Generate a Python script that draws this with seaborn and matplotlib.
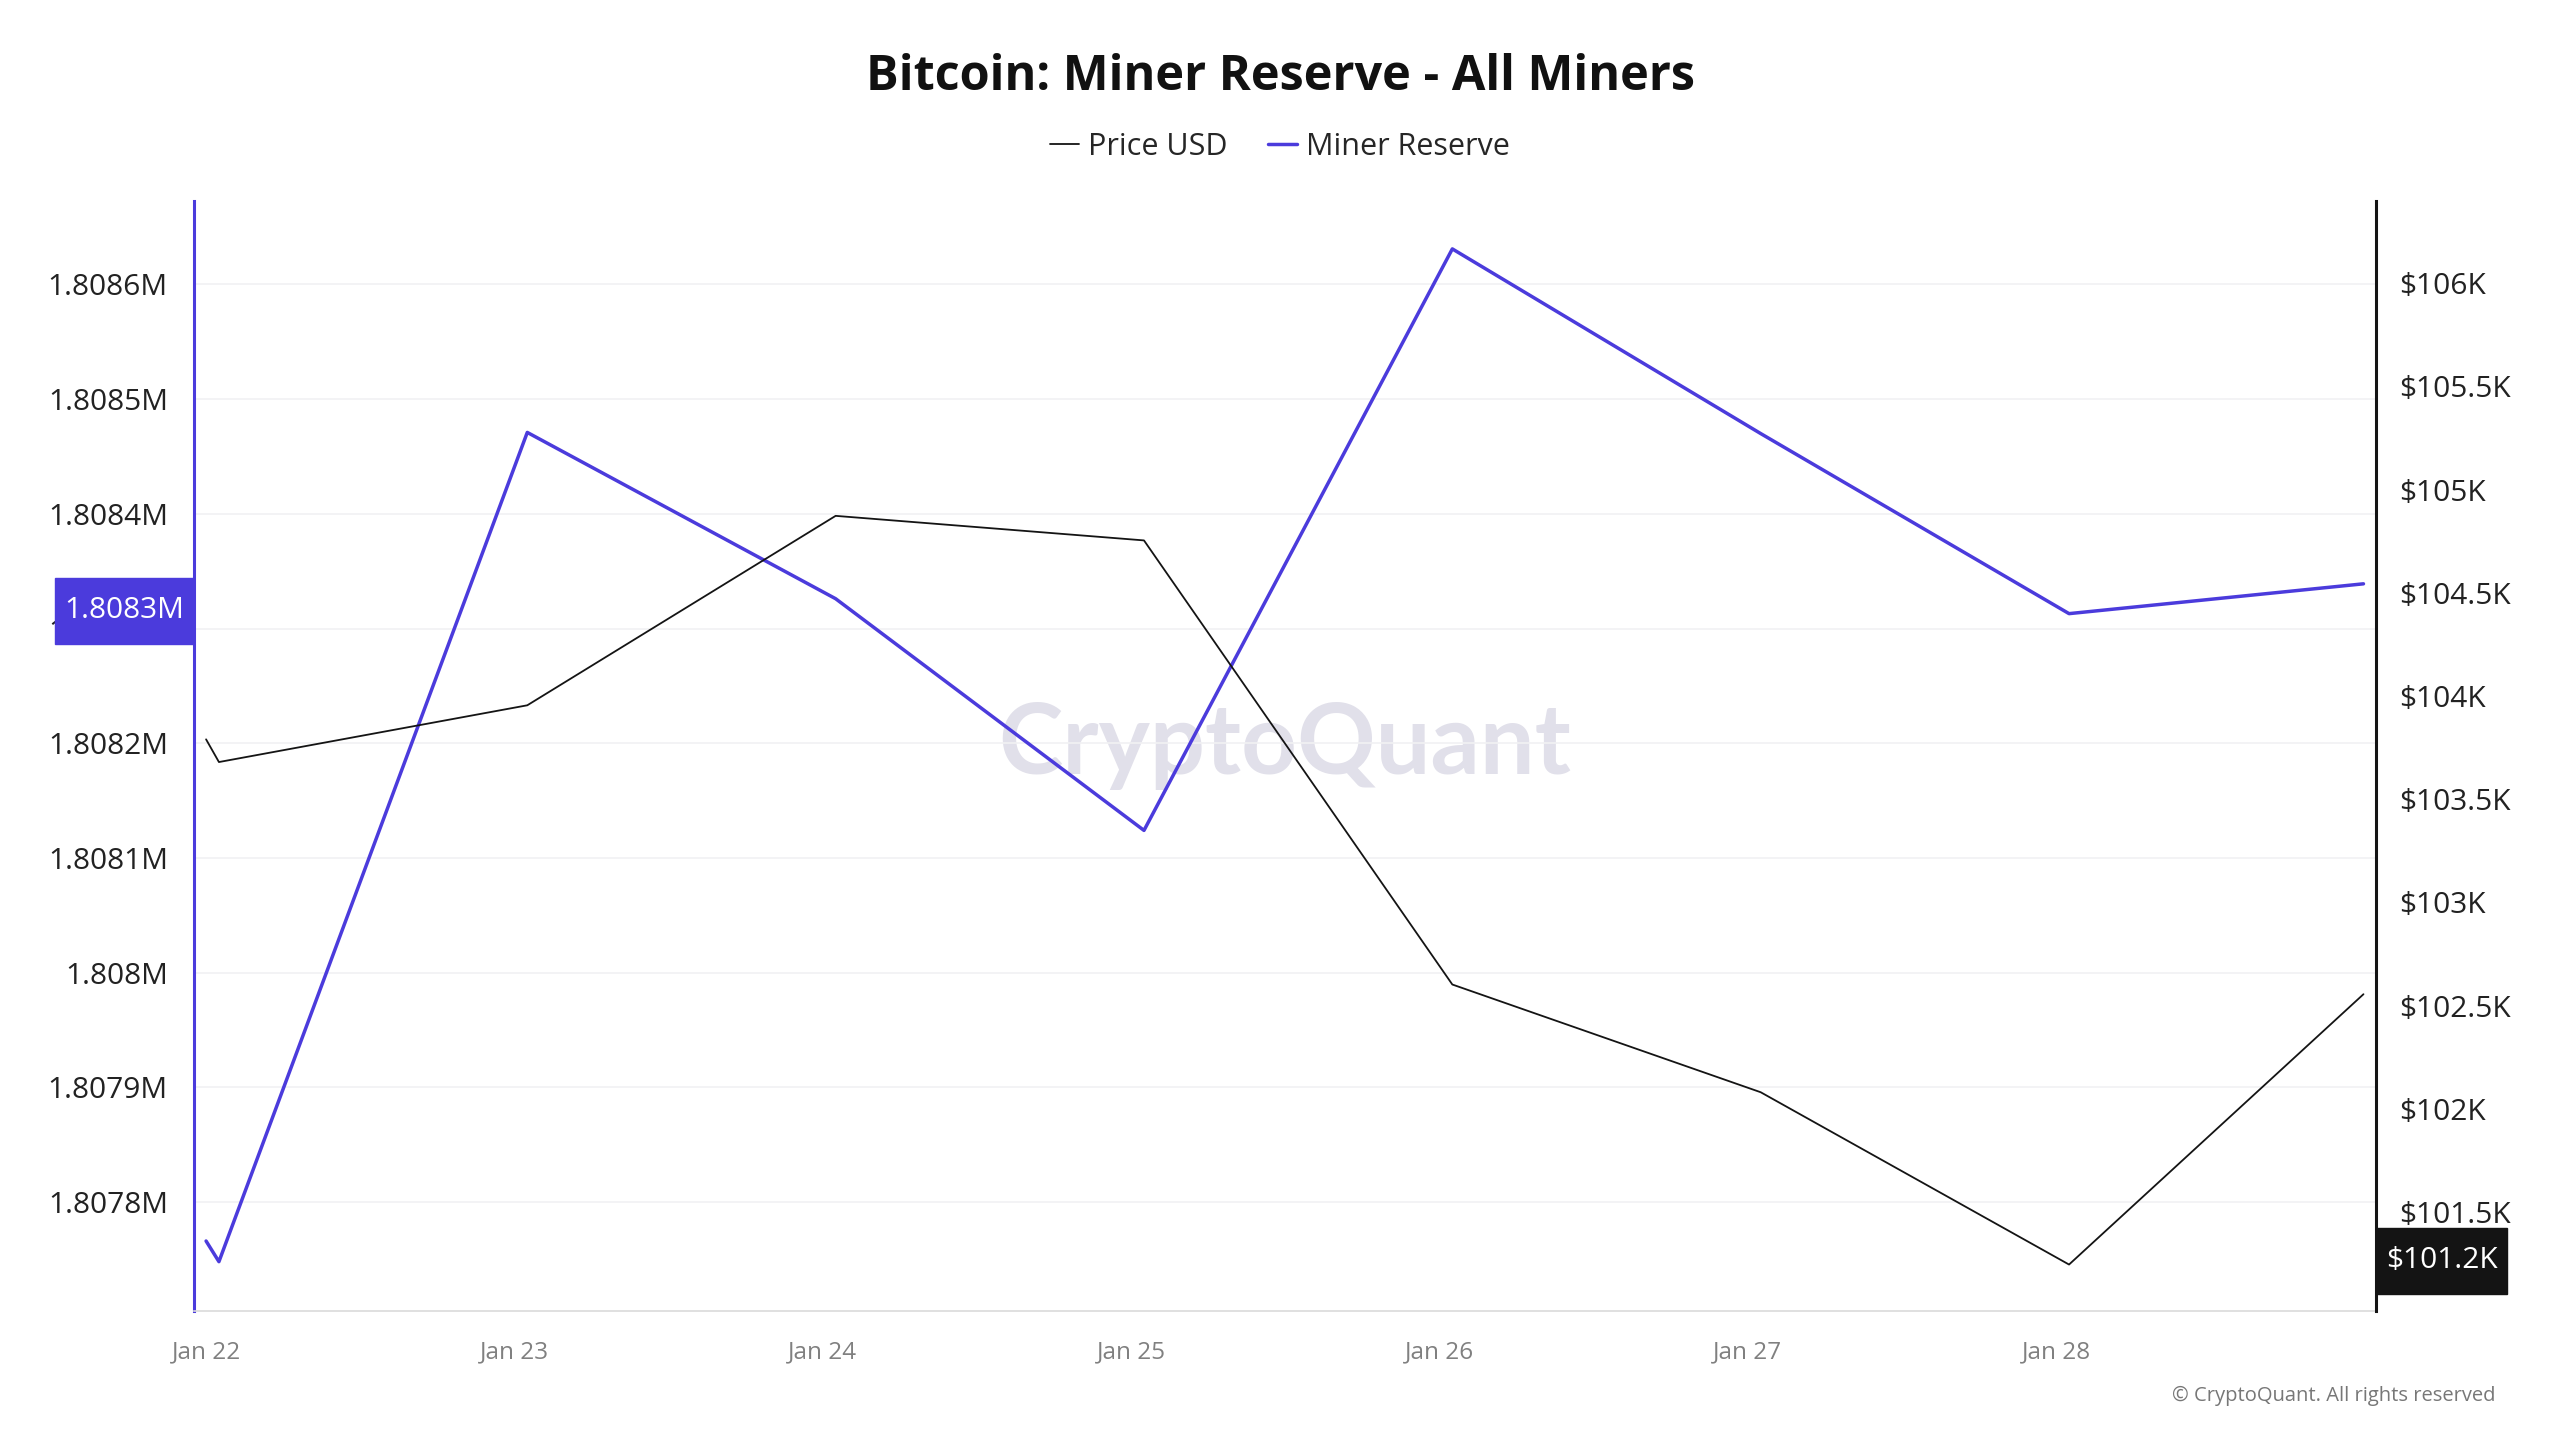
import numpy as np
import pandas as pd
import matplotlib
matplotlib.use("Agg")
import matplotlib.pyplot as plt
import matplotlib.dates as mdates
from matplotlib.lines import Line2D
from matplotlib.path import Path
from matplotlib.ticker import FuncFormatter, FixedLocator
import seaborn as sns

# ---------------- data ----------------
timestamps = ["2025-01-22 00:00", "2025-01-22 01:00", "2025-01-23 01:00",
              "2025-01-24 01:00", "2025-01-25 01:00", "2025-01-26 01:00",
              "2025-01-27 01:00", "2025-01-28 01:00", "2025-01-28 23:55"]
miner_reserve = [1807766, 1807748, 1808471, 1808326, 1808124,
                 1808631, 1808470, 1808313, 1808339]
price_usd = [103790, 103680, 103955, 104873, 104754,
             102602, 102080, 101245, 102555]
left_ticks = [1807800, 1807900, 1808000, 1808100, 1808200,
              1808300, 1808400, 1808500, 1808600]
right_ticks = [101500, 102000, 102500, 103000, 103500,
               104000, 104500, 105000, 105500, 106000]
x_tick_days = ["2025-01-22", "2025-01-23", "2025-01-24", "2025-01-25",
               "2025-01-26", "2025-01-27", "2025-01-28"]

title = "Bitcoin: Miner Reserve - All Miners"
legend_labels = ["Price USD", "Miner Reserve"]

df = pd.DataFrame({"date": pd.to_datetime(timestamps),
                   "reserve": miner_reserve,
                   "price": price_usd})

# ---------------- style ----------------
BLUE = "#4B3BDC"
BLACK = "#141414"
sns.set_theme(style="white")
plt.rcParams["font.family"] = ["Open Sans", "DejaVu Sans"]

fig = plt.figure(figsize=(25.6, 14.4), dpi=100)
ax = fig.add_axes([0.0759, 0.0896, 0.8521, 0.7710])
ax2 = ax.twinx()

sns.lineplot(data=df, x="date", y="reserve", ax=ax, color=BLUE,
             linewidth=2.5, legend=False)
sns.lineplot(data=df, x="date", y="price", ax=ax2, color=BLACK,
             linewidth=1.3, legend=False)

# limits
ax.set_xlim(pd.Timestamp("2025-01-21 23:05"), pd.Timestamp("2025-01-29 00:52"))
ax.set_ylim(1807705, 1808673)
ax2.set_ylim(101020, 106400)

# x ticks
ax.xaxis.set_major_locator(FixedLocator(mdates.date2num(pd.to_datetime(x_tick_days))))
ax.xaxis.set_major_formatter(mdates.DateFormatter("%b %d"))
ax.tick_params(axis="x", labelsize=17.5, colors="#808080", length=0, pad=21)

# left y
ax.yaxis.set_major_locator(FixedLocator(left_ticks))
ax.yaxis.set_major_formatter(FuncFormatter(lambda v, p: f"{v/1e6:g}M"))
ax.tick_params(axis="y", labelsize=21.5, labelcolor="#222222", length=0, pad=19)
ax.grid(axis="y", color="#F1F1F3", linewidth=1.2)
ax.grid(axis="x", visible=False)

# right y
ax2.yaxis.set_major_locator(FixedLocator(right_ticks))
ax2.yaxis.set_major_formatter(FuncFormatter(lambda v, p: f"${v/1000:g}K"))
ax2.tick_params(axis="y", labelsize=21.5, labelcolor="#222222", length=0, pad=17)
ax2.grid(False)

ax.set_xlabel("")
ax.set_ylabel("")
ax2.set_ylabel("")

# spines
for a in (ax, ax2):
    for s in ("top", "left", "right", "bottom"):
        a.spines[s].set_visible(False)
ax.spines["left"].set_visible(True)
ax.spines["left"].set_color(BLUE)
ax.spines["left"].set_linewidth(2.2)
ax2.spines["right"].set_visible(True)
ax2.spines["right"].set_color(BLACK)
ax2.spines["right"].set_linewidth(2.2)
ax.spines["bottom"].set_visible(True)
ax.spines["bottom"].set_color("#DADADA")
ax.spines["bottom"].set_linewidth(1.2)

# watermark
ax.text(0.5, 0.509, "CryptoQuant", transform=ax.transAxes, fontsize=70,
        color="#E1E0EA", ha="center", va="center", fontweight="bold",
        family=["Lato", "DejaVu Sans"], zorder=0)


def tall_box(x0, y0, width, height, mutation_size):
    px = 0.32 * mutation_size
    py = 0.62 * mutation_size
    x0, y0 = x0 - px, y0 - py
    x1, y1 = x0 + width + 2 * px, y0 + height + 2 * py
    return Path([(x0, y0), (x1, y0), (x1, y1), (x0, y1), (x0, y0)],
                closed=True)


# value boxes
ax.annotate(f"{miner_reserve[-2]/1e6:.4f}M", xy=(0, miner_reserve[-2]),
            xycoords=("axes fraction", "data"), xytext=(-10, 3),
            textcoords="offset pixels", ha="right", va="center",
            fontsize=21.5, color="white", annotation_clip=False, zorder=10,
            bbox=dict(boxstyle=tall_box, fc=BLUE, ec=BLUE))
ax2.annotate(f"${price_usd[-2]/1000:.1f}K", xy=(1, price_usd[-2]),
             xycoords=("axes fraction", "data"), xytext=(10, 4),
             textcoords="offset pixels", ha="left", va="center",
             fontsize=21.5, color="white", annotation_clip=False, zorder=10,
             bbox=dict(boxstyle=tall_box, fc=BLACK, ec=BLACK))

# title & legend
fig.text(0.5, 0.946, title, ha="center", va="center", fontsize=35,
         fontweight="bold", color="#111111")
handles = [Line2D([], [], color=BLACK, linewidth=1.3),
           Line2D([], [], color=BLUE, linewidth=2.5)]
fig.legend(handles, legend_labels, loc="center", bbox_to_anchor=(0.5, 0.898),
           ncol=2, frameon=False, fontsize=22, handlelength=0.95,
           handletextpad=0.32, columnspacing=1.3)

fig.text(0.975, 0.0306, "© CryptoQuant. All rights reserved", ha="right",
         va="center", fontsize=14.5, color="#777777")

fig.savefig("out.png", dpi=100)
